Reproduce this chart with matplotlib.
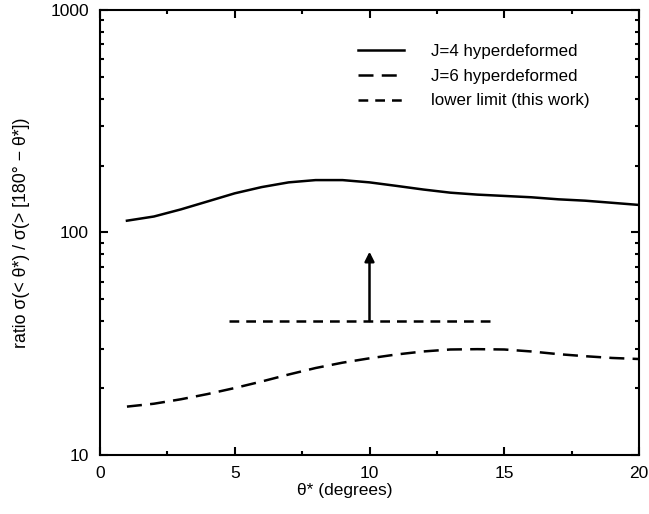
import matplotlib
matplotlib.use('Agg')
import matplotlib.pyplot as plt
from matplotlib.ticker import FixedLocator, NullFormatter

plt.rcParams['font.family'] = ['Liberation Sans', 'DejaVu Sans']
plt.rcParams['font.size'] = 12.5

# J=4 hyperdeformed
theta_j4 = [1, 2, 3, 4, 5, 6, 7, 8, 9, 10, 11, 12, 13, 14, 15, 16, 17, 18, 19, 20]
ratio_j4 = [113, 118, 127, 138, 150, 160, 168, 172, 172, 168, 162, 156, 151, 148, 146, 144, 141, 139, 136, 133]

# J=6 hyperdeformed
theta_j6 = [1, 2, 3, 4, 5, 6, 7, 8, 9, 10, 11, 12, 13, 14, 15, 16, 17, 18, 19, 20]
ratio_j6 = [16.5, 17.0, 17.8, 18.8, 20.0, 21.4, 23.0, 24.6, 26.0, 27.2, 28.3, 29.2, 29.8, 29.9, 29.8, 29.2, 28.4, 27.8, 27.3, 27.0]

# lower limit (this work)
theta_lim = [4.8, 14.6]
ratio_lim = [40, 40]
arrow_x = 10
arrow_y = [40, 82]

fig = plt.figure(figsize=(6.49, 5.14), dpi=100)
ax = fig.add_axes([100 / 649, 59 / 514, 539 / 649, 445 / 514])

lw = 1.8
ax.plot(theta_j4, ratio_j4, color='black', lw=lw, label='J=4 hyperdeformed')
ax.plot(theta_j6, ratio_j6, color='black', lw=lw, dashes=(6, 3.3), label='J=6 hyperdeformed')
ax.plot(theta_lim, ratio_lim, color='black', lw=lw, dashes=(3.9, 2.8), label='lower limit (this work)')
ax.annotate('', xy=(arrow_x, arrow_y[1]), xytext=(arrow_x, arrow_y[0]),
            arrowprops=dict(arrowstyle='-|>', color='black', lw=lw, mutation_scale=14,
                            shrinkA=0, shrinkB=0))

ax.set_yscale('log')
ax.set_xlim(0, 20)
ax.set_ylim(10, 1000)
ax.set_xticks([0, 5, 10, 15, 20])
ax.xaxis.set_minor_locator(FixedLocator([2.5, 7.5, 12.5, 17.5]))
ax.set_yticks([10, 100, 1000])
ax.set_yticklabels(['10', '100', '1000'])
ax.yaxis.set_minor_formatter(NullFormatter())
ax.tick_params(which='both', direction='in', top=True, right=True, width=1.5)
ax.tick_params(which='major', length=6, labelsize=12.5, pad=8)
ax.tick_params(which='minor', length=3)
for s in ax.spines.values():
    s.set_linewidth(1.5)

ax.set_xlabel('θ* (degrees)', fontsize=12.5)
ax.set_ylabel('ratio σ(< θ*) / σ(> [180° − θ*])', fontsize=12.8)
ax.xaxis.set_label_coords(0.455, -0.062)
ax.yaxis.set_label_coords(-0.13, 0.5)

ax.legend(loc='upper left', frameon=False, fontsize=12.2, handlelength=2.7,
          handletextpad=1.6, labelspacing=0.58, borderpad=0, borderaxespad=0,
          bbox_to_anchor=((358 - 100) / 539, 0.924))

fig.savefig('out.png', dpi=100)
